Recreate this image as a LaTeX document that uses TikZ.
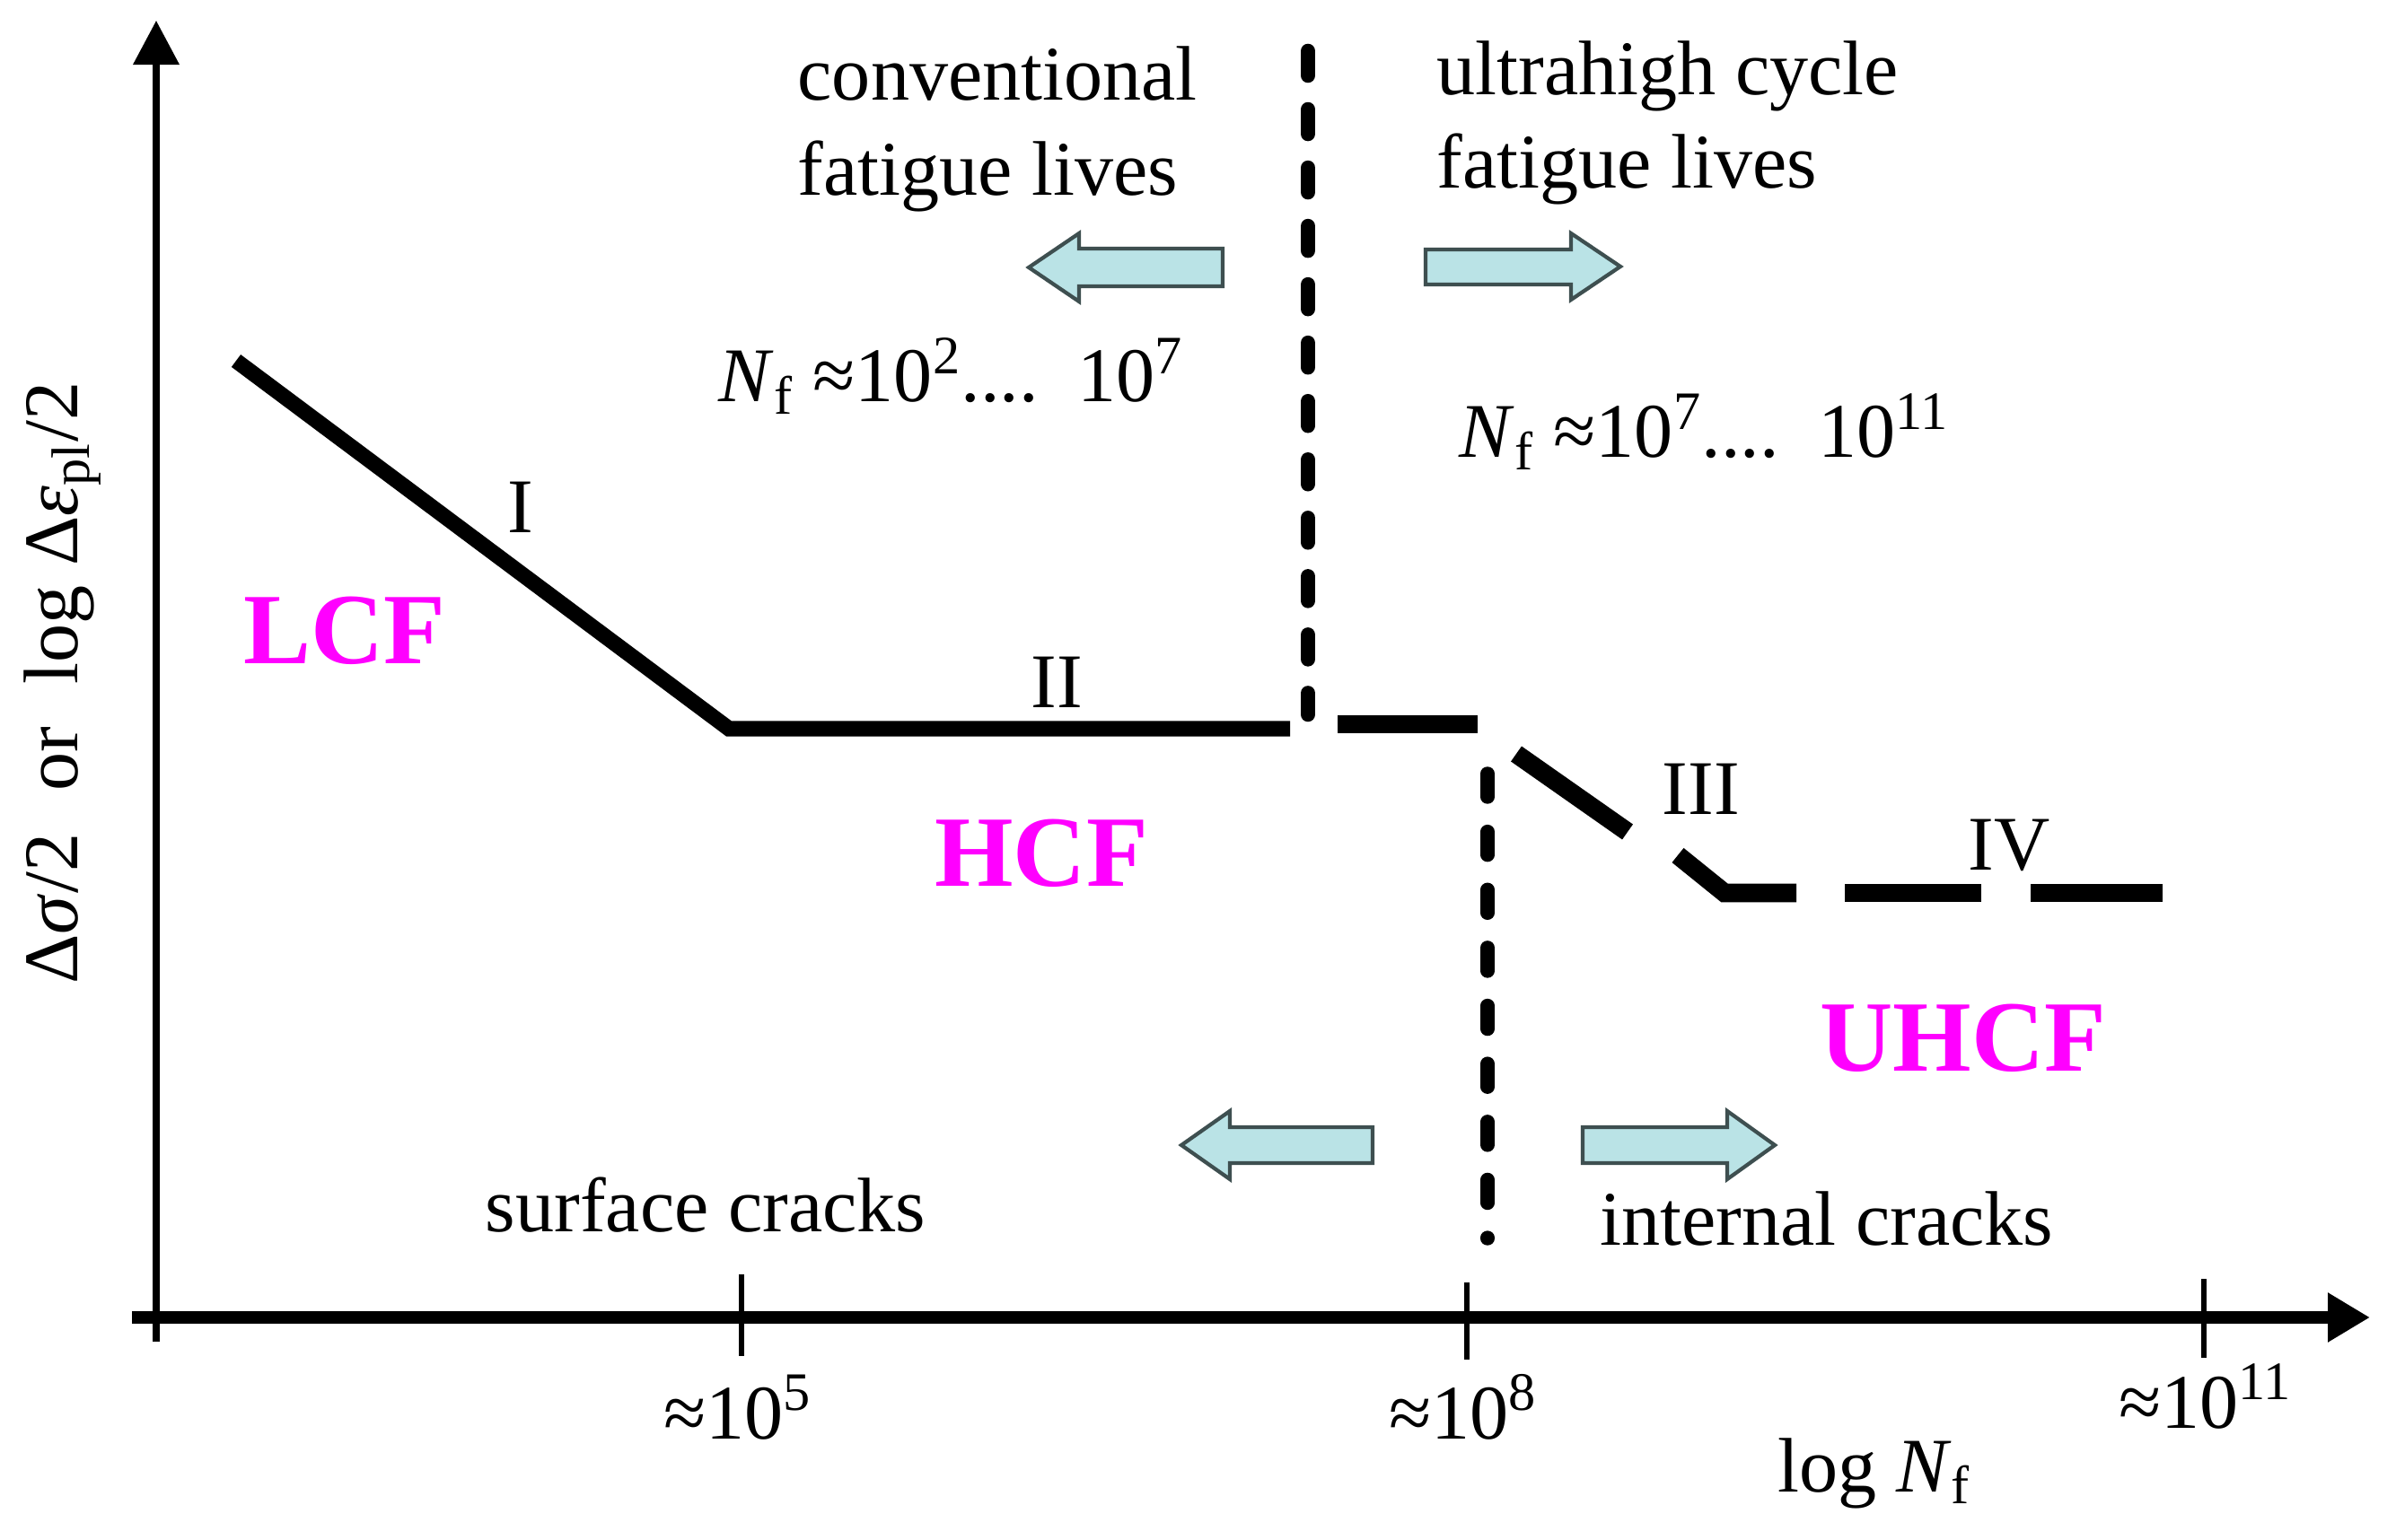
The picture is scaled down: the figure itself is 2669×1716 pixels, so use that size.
\documentclass[tikz,border=0pt]{standalone}
\usepackage{fontspec}
\setmainfont{Liberation Serif}
\usetikzlibrary{arrows.meta}
\definecolor{magentaC}{HTML}{FF00FF}
\definecolor{arrowfill}{HTML}{BAE3E6}
\definecolor{arrowdraw}{HTML}{3E4F50}
\begin{document}
\begin{tikzpicture}[x=0.01cm,y=-0.01cm,
  txt/.style={font=\fontsize{24.5}{30}\selectfont, inner sep=0pt},
  regime/.style={font=\fontsize{32}{38}\selectfont\bfseries, text=magentaC, inner sep=0pt},
  curve/.style={line width=4.9pt, line join=miter},
  seg/.style={line width=5.9pt, line join=miter},
  vdashA/.style={line width=4.7pt, line cap=round, dash pattern=on 0.27cm off 0.38cm},
  vdashB/.style={line width=4.4pt, line cap=round, dash pattern=on 0.26cm off 0.386cm},
  barrow/.style={fill=arrowfill, draw=arrowdraw, line width=1.2pt, line join=miter},
  tick/.style={line width=1.7pt},
]
\useasboundingbox (0,0) rectangle (2669,1716);

% axes
\coordinate (yo) at (174,1495);
\coordinate (ytip) at (174,23);
\coordinate (xo) at (147,1468);
\coordinate (xtip) at (2640,1468);
\draw[line width=2pt, -{Triangle[length=0.49cm,width=0.5cm]}] (yo) -- (ytip);
\draw[line width=3.7pt, -{Triangle[length=0.47cm,width=0.52cm]}] (xo) -- (xtip);

% ticks
\coordinate (k5a) at (826,1420); \coordinate (k5b) at (826,1511);
\coordinate (k8a) at (1634,1429); \coordinate (k8b) at (1634,1515);
\coordinate (k11a) at (2455,1425); \coordinate (k11b) at (2455,1513);
\draw[tick] (k5a) -- (k5b);
\draw[tick] (k8a) -- (k8b);
\draw[tick] (k11a) -- (k11b);

% tick labels
\node[txt, anchor=base] (t5) at (822,1603) {≈10\textsuperscript{5}};
\node[txt, anchor=base] (t8) at (1630,1603) {≈10\textsuperscript{8}};
\node[txt, anchor=base] (t11) at (2457,1591) {≈10\textsuperscript{11}};
\node[txt, anchor=base] (xlab) at (2088,1662) {log \textit{N}\textsubscript{f}};

% y label
\node[txt, anchor=base, rotate=90] (ylab) at (86,761)
  {Δ\textit{σ}/2\hspace{0.55em}or\hspace{0.55em}log Δ\textit{ε}\textsubscript{pl}/2};

% vertical dashed separators
\coordinate (vA1) at (1457,57); \coordinate (vA2) at (1457,796);
\coordinate (vB1) at (1657,862); \coordinate (vB2) at (1657,1380);
\draw[vdashA] (vA1) -- (vA2);
\draw[vdashB] (vB1) -- (vB2);

% S-N curve
\coordinate (c0) at (263,402);
\coordinate (c1) at (812,812);
\coordinate (c2) at (1437,812);
\draw[curve] (c0) -- (c1) -- (c2);
\coordinate (s1a) at (1490,807); \coordinate (s1b) at (1646,807);
\draw[seg] (s1a) -- (s1b);
\coordinate (s2a) at (1689,840); \coordinate (s2b) at (1813,927);
\draw[seg] (s2a) -- (s2b);
\coordinate (s3a) at (1869,953); \coordinate (s3b) at (1921,995); \coordinate (s3c) at (2001,995);
\draw[seg] (s3a) -- (s3b) -- (s3c);
\coordinate (s4a) at (2055,995); \coordinate (s4b) at (2207,995);
\draw[seg] (s4a) -- (s4b);
\coordinate (s5a) at (2262,995); \coordinate (s5b) at (2409,995);
\draw[seg] (s5a) -- (s5b);

% block arrows
\draw[barrow] (1146,298) -- (1202,260) -- (1202,277) -- (1362,277) -- (1362,319) -- (1202,319) -- (1202,336) -- cycle;
\draw[barrow] (1805,297) -- (1750,260) -- (1750,278) -- (1588,278) -- (1588,317) -- (1750,317) -- (1750,334) -- cycle;
\draw[barrow] (1316,1276) -- (1370,1238) -- (1370,1256) -- (1529,1256) -- (1529,1296) -- (1370,1296) -- (1370,1314) -- cycle;
\draw[barrow] (1977,1276) -- (1924,1238) -- (1924,1256) -- (1763,1256) -- (1763,1296) -- (1924,1296) -- (1924,1314) -- cycle;

% texts
\node[txt, anchor=base west] (conv1) at (888,112) {conventional};
\node[txt, anchor=base west] (conv2) at (888,218) {fatigue lives};
\node[txt, anchor=base west] (uh1) at (1600,106) {ultrahigh cycle};
\node[txt, anchor=base west] (uh2) at (1600,210) {fatigue lives};
\node[txt, anchor=base west] (nf1) at (800,448) {\textit{N}\textsubscript{f} ≈10\textsuperscript{2}....\ \ 10\textsuperscript{7}};
\node[txt, anchor=base west] (nf2) at (1625,510) {\textit{N}\textsubscript{f} ≈10\textsuperscript{7}....\ \ 10\textsuperscript{11}};

\node[txt, anchor=base] (lI) at (580,594) {I};
\node[txt, anchor=base] (lII) at (1177,789) {II};
\node[txt, anchor=base] (lIII) at (1895,908) {III};
\node[txt, anchor=base] (lIV) at (2238,970) {IV};

\node[regime, anchor=base] (lcf) at (384,740) {LCF};
\node[regime, anchor=base] (hcf) at (1160,988) {HCF};
\node[regime, anchor=base] (uhcf) at (2187,1193) {UHCF};

\node[txt, anchor=base] (surf) at (786,1372) {surface cracks};
\node[txt, anchor=base] (intc) at (2035,1387) {internal cracks};
\end{tikzpicture}
\end{document}
